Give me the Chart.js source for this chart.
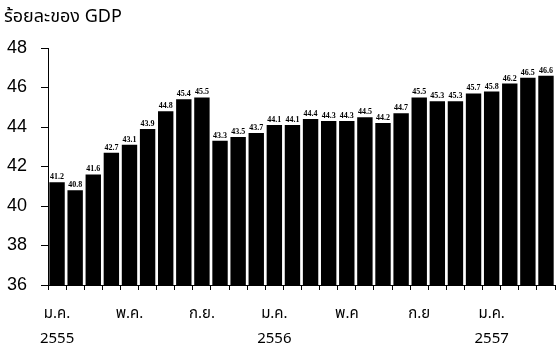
<!DOCTYPE html>
<html>
<head>
<meta charset="utf-8">
<script src="https://cdn.jsdelivr.net/npm/chart.js@4"></script>
<style>
  html, body { margin: 0; padding: 0; background: #fff; }
  #wrap { width: 558px; height: 347px; }
</style>
</head>
<body>
<div id="wrap"><canvas id="chart" width="558" height="347"></canvas></div>
<script>
// monthly values, Jan 2555 - Apr 2557
const months = [
  "ม.ค. 55","ก.พ. 55","มี.ค. 55","เม.ย. 55","พ.ค. 55","มิ.ย. 55","ก.ค. 55","ส.ค. 55","ก.ย. 55","ต.ค. 55","พ.ย. 55","ธ.ค. 55",
  "ม.ค. 56","ก.พ. 56","มี.ค. 56","เม.ย. 56","พ.ค. 56","มิ.ย. 56","ก.ค. 56","ส.ค. 56","ก.ย. 56","ต.ค. 56","พ.ย. 56","ธ.ค. 56",
  "ม.ค. 57","ก.พ. 57","มี.ค. 57","เม.ย. 57"
];
const values = [
  41.2, 40.8, 41.6, 42.7, 43.1, 43.9, 44.8, 45.4, 45.5, 43.3, 43.5, 43.7,
  44.1, 44.1, 44.4, 44.3, 44.3, 44.5, 44.2, 44.7, 45.5, 45.3, 45.3, 45.7,
  45.8, 46.2, 46.5, 46.6
];
// axis labels shown under the bars (index -> lines)
const tickLabels = {
  0: ["ม.ค.", "2555"],
  4: ["พ.ค.", ""],
  8: ["ก.ย.", ""],
  12: ["ม.ค.", "2556"],
  16: ["พ.ค", ""],
  20: ["ก.ย", ""],
  24: ["ม.ค.", "2557"]
};
const yTitle = "ร้อยละของ GDP";

const thaiFont = "Tahoma, 'Noto Sans Thai', 'Noto Sans', 'DejaVu Sans', sans-serif";

// small value labels above bars + the unit text at top left
const barLabels = {
  id: "barLabels",
  afterDatasetsDraw(chart) {
    const ctx = chart.ctx;
    const meta = chart.getDatasetMeta(0);
    ctx.save();
    ctx.fillStyle = "#000";
    ctx.font = "bold 8px 'Liberation Serif', serif";
    ctx.textAlign = "center";
    ctx.textBaseline = "bottom";
    meta.data.forEach((bar, i) => {
      ctx.fillText(values[i].toFixed(1), bar.x, bar.y - 1);
    });
    ctx.font = "18px " + thaiFont;
    ctx.textAlign = "left";
    ctx.textBaseline = "middle";
    ctx.fillText(yTitle, 4, 18);
    ctx.restore();
  }
};

new Chart(document.getElementById("chart"), {
  type: "bar",
  data: {
    labels: months,
    datasets: [{
      data: values,
      backgroundColor: "#000",
      borderWidth: 0,
      barPercentage: 0.85,
      categoryPercentage: 1.0
    }]
  },
  options: {
    responsive: false,
    animation: false,
    layout: { padding: { top: 48, right: 1, bottom: 0, left: 0 } },
    plugins: { legend: { display: false }, tooltip: { enabled: false }, title: { display: false } },
    scales: {
      x: {
        offset: true,
        grid: { offset: true, drawOnChartArea: false, drawTicks: true, tickLength: 5, color: "#000" },
        border: { color: "#000", width: 1 },
        ticks: {
          autoSkip: false,
          maxRotation: 0,
          color: "#000",
          font: { family: thaiFont, size: 15, lineHeight: 1.67 },
          padding: 12,
          callback: (v, i) => tickLabels[i] || ""
        },
        afterFit: (s) => { s.height = 62; }
      },
      y: {
        min: 36,
        max: 48,
        grid: { drawOnChartArea: false, drawTicks: true, tickLength: 7, color: "#000" },
        border: { color: "#000", width: 1 },
        ticks: {
          stepSize: 2,
          color: "#000",
          padding: 14,
          font: { family: "'Liberation Sans', sans-serif", size: 18 }
        },
        afterFit: (s) => { s.width = 48; }
      }
    }
  },
  plugins: [barLabels]
});
</script>
</body>
</html>
